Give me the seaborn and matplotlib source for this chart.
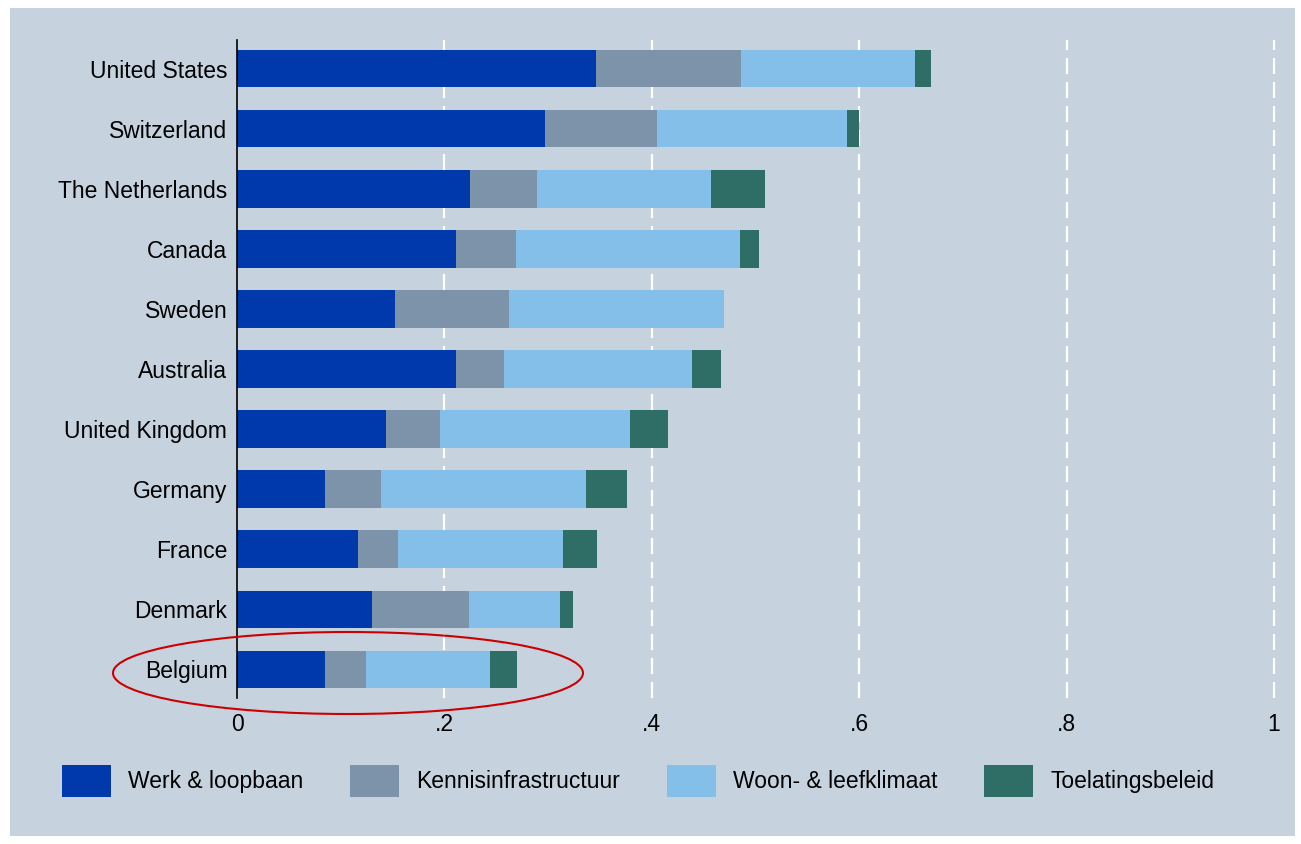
import numpy as np
import pandas as pd
import seaborn as sns
import matplotlib.pyplot as plt
from matplotlib.patches import Rectangle, Ellipse, Patch

countries = ["United States", "Switzerland", "The Netherlands", "Canada", "Sweden",
             "Australia", "United Kingdom", "Germany", "France", "Denmark", "Belgium"]
werk = [0.346, 0.297, 0.225, 0.211, 0.152, 0.211, 0.144, 0.085, 0.117, 0.130, 0.085]
kennis = [0.140, 0.108, 0.064, 0.058, 0.110, 0.046, 0.052, 0.054, 0.038, 0.094, 0.039]
woon = [0.168, 0.183, 0.168, 0.216, 0.208, 0.182, 0.183, 0.198, 0.159, 0.087, 0.120]
toelating = [0.015, 0.012, 0.052, 0.018, 0.000, 0.028, 0.037, 0.039, 0.033, 0.013, 0.026]

series = ["Werk & loopbaan", "Kennisinfrastructuur", "Woon- & leefklimaat", "Toelatingsbeleid"]
colors = ["#0039AC", "#7D93AA", "#83BFE9", "#2E6E66"]
bg = "#C6D3DF"
fs = 16.5

df = pd.DataFrame({"country": countries, series[0]: werk, series[1]: kennis,
                   series[2]: woon, series[3]: toelating})
cum = df[series].cumsum(axis=1)

plt.rcParams["font.family"] = ["Liberation Sans", "DejaVu Sans"]
fig = plt.figure(figsize=(13.01, 8.44), dpi=100)
fig.patch.set_facecolor("white")
fig.patches.append(Rectangle((10 / 1301, 1 - 836 / 844), 1285 / 1301, 828 / 844,
                             transform=fig.transFigure, facecolor=bg, edgecolor="none", zorder=-10))

ax = fig.add_axes([237 / 1301, 1 - 698 / 844, 1037 / 1301, 658 / 844])
ax.set_facecolor(bg)
ax.patch.set_alpha(0)

# stacked bars: draw cumulative totals from the outermost layer inwards
for name, col in reversed(list(zip(series, colors))):
    sns.barplot(x=cum[name], y=df["country"], orient="h", color=col, width=0.62,
                saturation=1, ax=ax, zorder=3)

ax.set_xlim(0, 1)
ax.set_ylim(10.48, -0.48)
ax.set_xticks([0, 0.2, 0.4, 0.6, 0.8, 1])
ax.set_xticklabels(["0", ".2", ".4", ".6", ".8", "1"], fontsize=fs)
ax.tick_params(axis="y", labelsize=fs, length=0, pad=7)
ax.tick_params(axis="x", length=0, pad=11)
ax.set_xlabel("")
ax.set_ylabel("")
for x in [0.2, 0.4, 0.6, 0.8, 1.0]:
    ax.axvline(x, color="white", linestyle=(0, (7.2, 3.6)), linewidth=1.6, zorder=1,
               clip_on=False)
for s in ["top", "right", "bottom"]:
    ax.spines[s].set_visible(False)
ax.spines["left"].set_color("black")
ax.spines["left"].set_linewidth(1.2)
ax.spines["left"].set_zorder(5)

# highlight Belgium
fig.patches.append(Ellipse((348 / 1301, 1 - 673 / 844), 470 / 1301, 82 / 844,
                           transform=fig.transFigure, facecolor="none",
                           edgecolor="#CC0000", linewidth=1.5, zorder=10))

handles = [Patch(facecolor=c, edgecolor="none") for c in colors]
fig.legend(handles, series, loc="center left", bbox_to_anchor=(41 / 1301, 1 - 781 / 844),
           ncol=4, frameon=False, fontsize=fs, handlelength=2.14, handleheight=1.75,
           handletextpad=0.74, columnspacing=2.05)

fig.savefig("out.png", dpi=100, facecolor="white")
